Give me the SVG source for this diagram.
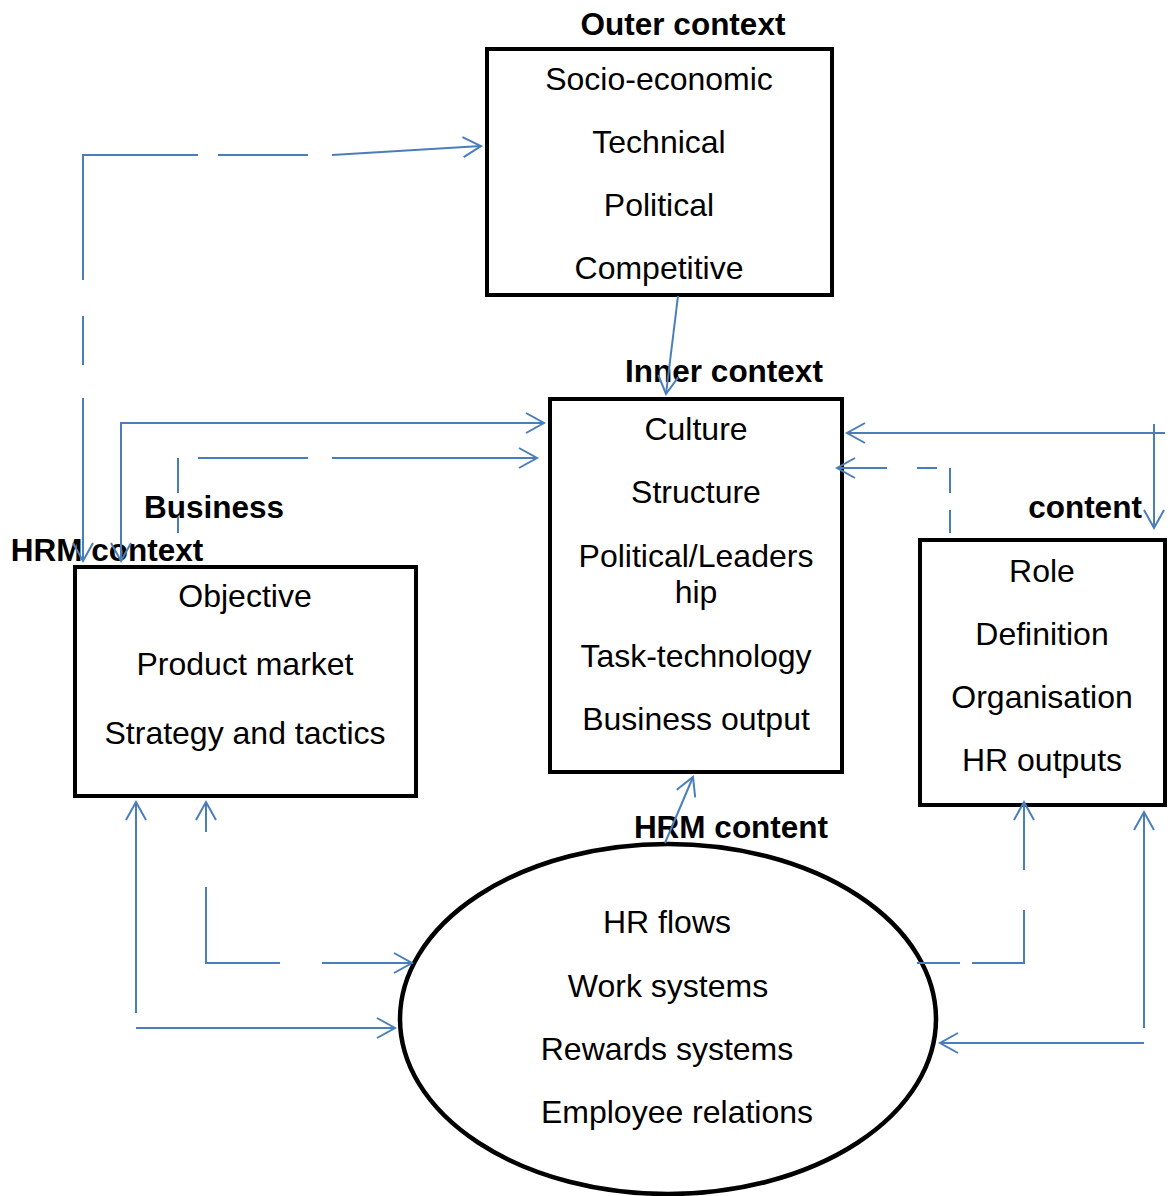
<svg xmlns="http://www.w3.org/2000/svg" width="1171" height="1196" viewBox="0 0 1171 1196">
  <style>
    .box { fill: #ffffff; stroke: #000000; stroke-width: 4; }
    .lbl { font-family: "Liberation Sans", Arial, sans-serif; font-size: 32px; fill: #000000; text-anchor: middle; }
    .ttl { font-family: "Liberation Sans", Arial, sans-serif; font-size: 31.5px; font-weight: bold; fill: #000000; text-anchor: middle; }
    .cn { fill: none; stroke: #4a7ebb; stroke-width: 2; }
  </style>
  <defs>
    <marker id="arr" markerUnits="userSpaceOnUse" markerWidth="24" markerHeight="24" viewBox="-20 -12 24 24" refX="0" refY="0" orient="auto-start-reverse">
      <path d="M -18 -10 L 0 0 L -18 10" fill="none" stroke="#4a7ebb" stroke-width="2"/>
    </marker>
  </defs>

  <!-- boxes -->
  <g id="outer-context">
    <rect class="box" x="487" y="49" width="345" height="246"/>
    <text class="ttl" x="683" y="35">Outer context</text>
    <text class="lbl" x="659" y="90">Socio-economic</text>
    <text class="lbl" x="659" y="153">Technical</text>
    <text class="lbl" x="659" y="216">Political</text>
    <text class="lbl" x="659" y="279">Competitive</text>
  </g>

  <g id="inner-context">
    <rect class="box" x="550" y="399" width="292" height="373"/>
    <text class="ttl" x="724" y="382">Inner context</text>
    <text class="lbl" x="696" y="440">Culture</text>
    <text class="lbl" x="696" y="503">Structure</text>
    <text class="lbl" x="696" y="567">Political/Leaders</text>
    <text class="lbl" x="696" y="603">hip</text>
    <text class="lbl" x="696" y="667">Task-technology</text>
    <text class="lbl" x="696" y="730">Business output</text>
  </g>

  <g id="business-hrm-context">
    <rect class="box" x="75" y="567" width="341" height="229"/>
    <text class="ttl" x="214" y="518">Business</text>
    <text class="ttl" x="107" y="561">HRM context</text>
    <text class="lbl" x="245" y="607">Objective</text>
    <text class="lbl" x="245" y="675">Product market</text>
    <text class="lbl" x="245" y="744">Strategy and tactics</text>
  </g>

  <g id="content">
    <rect class="box" x="920" y="540" width="245" height="265"/>
    <text class="ttl" x="1085" y="518">content</text>
    <text class="lbl" x="1042" y="582">Role</text>
    <text class="lbl" x="1042" y="645">Definition</text>
    <text class="lbl" x="1042" y="708">Organisation</text>
    <text class="lbl" x="1042" y="771">HR outputs</text>
  </g>

  <g id="hrm-content">
    <text class="ttl" x="731" y="838">HRM content</text>
    <ellipse cx="668" cy="1019" rx="268" ry="175" fill="#ffffff" stroke="#000000" stroke-width="4.5"/>
    <text class="lbl" x="667" y="933">HR flows</text>
    <text class="lbl" x="668" y="997">Work systems</text>
    <text class="lbl" x="667" y="1060">Rewards systems</text>
    <text class="lbl" x="677" y="1123">Employee relations</text>
  </g>

  <!-- connectors -->
  <g id="connectors">
    <!-- HRM context <-> outer context (dashed) -->
    <path class="cn" d="M 83 280 L 83 155 L 198 155"/>
    <path class="cn" d="M 83 316 L 83 365"/>
    <path class="cn" d="M 83 398 L 83 561" marker-end="url(#arr)"/>
    <path class="cn" d="M 218 155 L 308 155"/>
    <path class="cn" d="M 332 155 L 481 146" marker-end="url(#arr)"/>

    <!-- HRM context <-> inner context (solid) -->
    <path class="cn" d="M 121 561 L 121 423 L 544 423" marker-start="url(#arr)" marker-end="url(#arr)"/>

    <!-- business -> inner context (dashed) -->
    <path class="cn" d="M 178 458 L 178 493"/>
    <path class="cn" d="M 178 517 L 178 533"/>
    <path class="cn" d="M 198 458 L 308 458"/>
    <path class="cn" d="M 332 458 L 537 458" marker-end="url(#arr)"/>

    <!-- content <-> inner context (solid) -->
    <path class="cn" d="M 1165 433 L 847 433" marker-end="url(#arr)"/>
    <path class="cn" d="M 1154 424 L 1154 528" marker-end="url(#arr)"/>

    <!-- content -> inner context (dashed) -->
    <path class="cn" d="M 950 533 L 950 510"/>
    <path class="cn" d="M 950 493 L 950 468"/>
    <path class="cn" d="M 937 468 L 917 468"/>
    <path class="cn" d="M 887 468 L 837 468" marker-end="url(#arr)"/>

    <!-- outer -> inner -->
    <path class="cn" d="M 678 296 L 666 394" marker-end="url(#arr)"/>

    <!-- HRM content -> inner -->
    <path class="cn" d="M 665 843 L 693 777" marker-end="url(#arr)"/>

    <!-- HRM content <-> business (solid) -->
    <path class="cn" d="M 136 1013 L 136 802" marker-end="url(#arr)"/>
    <path class="cn" d="M 136 1028 L 395 1028" marker-end="url(#arr)"/>

    <!-- HRM content <-> business (dashed) -->
    <path class="cn" d="M 206 887 L 206 963 L 280 963"/>
    <path class="cn" d="M 206 832 L 206 802" marker-end="url(#arr)"/>
    <path class="cn" d="M 322 963 L 412 963" marker-end="url(#arr)"/>

    <!-- HRM content -> content (dashed) -->
    <path class="cn" d="M 917 963 L 960 963"/>
    <path class="cn" d="M 972 963 L 1024 963 L 1024 910"/>
    <path class="cn" d="M 1024 870 L 1024 802" marker-end="url(#arr)"/>

    <!-- content <-> HRM content (solid) -->
    <path class="cn" d="M 1144 1028 L 1144 812" marker-end="url(#arr)"/>
    <path class="cn" d="M 1144 1043 L 940 1043" marker-end="url(#arr)"/>
  </g>
</svg>
